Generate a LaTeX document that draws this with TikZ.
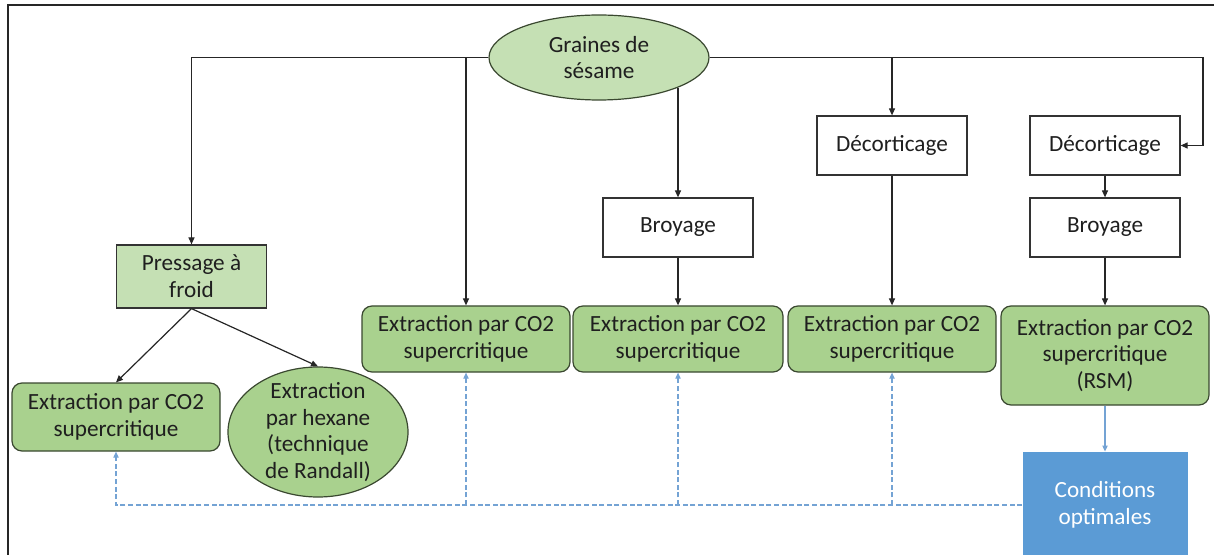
\documentclass[tikz,border=0pt]{standalone}
\usepackage{fontspec}
\setmainfont{Carlito}
\usetikzlibrary{arrows.meta,shapes.geometric}
\definecolor{paleleaf}{HTML}{C5E0B4}
\definecolor{leaf}{HTML}{A9D18E}
\definecolor{leafline}{HTML}{3A4830}
\definecolor{sky}{HTML}{5B9BD5}
\definecolor{skyline}{HTML}{74A3D4}

\begin{document}
\begin{tikzpicture}[x=0.5pt,y=-0.5pt,
  font=\fontsize{11.6}{13.4}\selectfont, text=black!88,
  plainbox/.style={draw=black!80,line width=0.6pt,minimum width=75pt,minimum height=29.5pt,inner sep=0pt,align=center},
  extbox/.style={draw=leafline,fill=leaf,line width=0.6pt,rounded corners=5pt,minimum width=104pt,minimum height=33pt,inner sep=0pt,align=center},
  oval/.style={ellipse,draw=leafline,line width=0.6pt,inner sep=0pt,align=center},
  flow/.style={draw=black!85,line width=0.6pt,-{Triangle[length=3.5pt,width=3pt]}},
  blueflow/.style={draw=skyline,line width=0.6pt,-{Triangle[length=3pt,width=2.6pt]}},
  dashflow/.style={blueflow,dash pattern=on 2.5pt off 1.3pt}]
  \useasboundingbox (0,0) rectangle (1214,555);
  \draw[line width=0.6pt,black!85] (1230,5) -- (8,5) -- (8,570);

  \node[oval,fill=paleleaf,minimum width=110pt,minimum height=42.5pt] (graines) at (599,57.5) {Graines de\\sésame};
  \node[plainbox,fill=paleleaf,minimum height=31.5pt] (pressage) at (191.5,276.5) {Pressage à\\froid};
  \node[plainbox] (broy1) at (678,227.5) {Broyage};
  \node[plainbox] (dec1) at (892,145.5) {Décorticage};
  \node[plainbox] (dec2) at (1105,145.5) {Décorticage};
  \node[plainbox] (broy2) at (1105,227.5) {Broyage};

  \node[extbox,minimum height=34pt] (co2a) at (116,417) {Extraction par CO2\\supercritique};
  \node[oval,fill=leaf,minimum width=90pt,minimum height=65pt] (hexane) at (318,432) {};
  \node[align=center] (hexanetxt) at (hexane.center) {Extraction\\par hexane\\(technique\\de Randall)};
  \node[extbox] (co2b) at (466,339) {Extraction par CO2\\supercritique};
  \node[extbox,minimum width=105pt] (co2c) at (678,339) {Extraction par CO2\\supercritique};
  \node[extbox] (co2d) at (892,339) {Extraction par CO2\\supercritique};
  \node[extbox,minimum height=49.5pt] (co2e) at (1105,355.5) {Extraction par CO2\\supercritique\\(RSM)};
  \node[fill=sky,text=white,minimum width=82.5pt,minimum height=53pt,inner sep=0pt,align=center] (cond) at (1105,505) {Conditions\\optimales};

  \coordinate (coin) at (1203,57.5);
  \draw[flow] (graines.west) -| (pressage.north);
  \draw[flow] (graines.west) -| (co2b.north);
  \draw[flow] (graines.east) -| (dec1.north);
  \draw[flow] (graines.east) -- (coin) |- (dec2.east);
  \draw[flow] (broy1.north |- graines.-21) -- (broy1.north);
  \draw[flow] (broy1.south) -- (co2c.north);
  \draw[flow] (dec1.south) -- (co2d.north);
  \draw[flow] (dec2.south) -- (broy2.north);
  \draw[flow] (broy2.south) -- (co2e.north);
  \draw[flow] (pressage.south) -- (co2a.north);
  \draw[flow] (pressage.south) -- (hexane.north);

  \draw[blueflow] (co2e.south) -- (cond.north);
  \draw[dashflow] (cond.west) -| (co2a.south);
  \foreach \n in {co2b,co2c,co2d}
    \draw[dashflow] (\n.south |- cond.west) -- (\n.south);
\end{tikzpicture}
\end{document}
